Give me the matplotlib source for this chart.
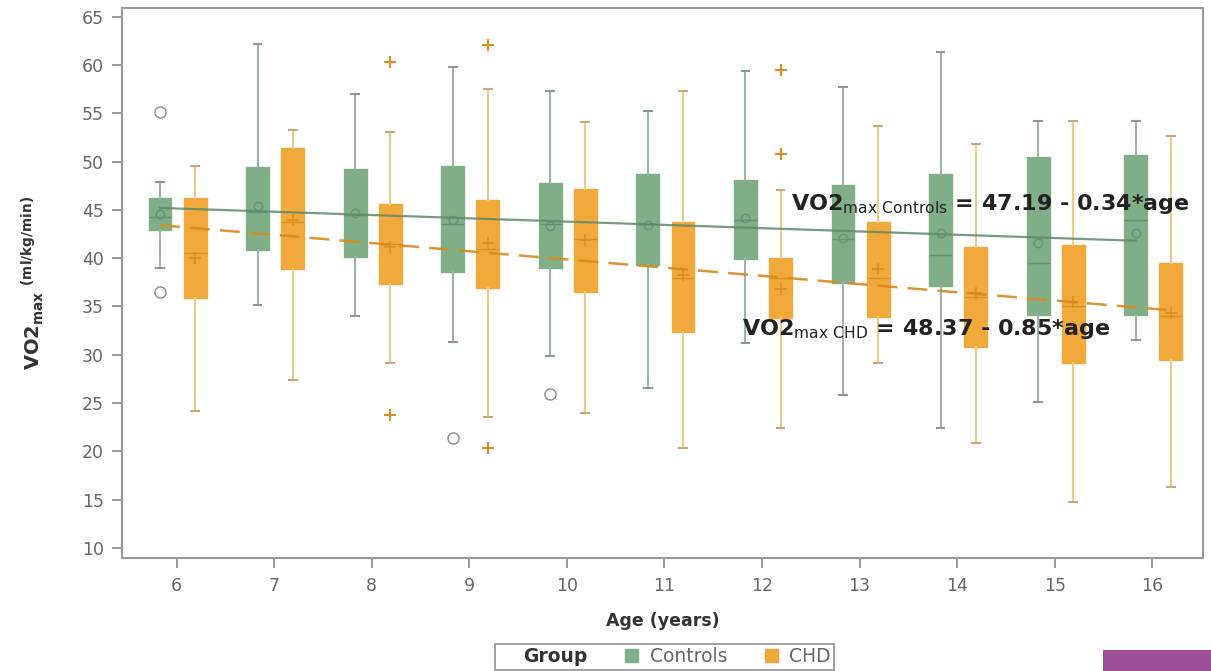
import numpy as np
import matplotlib.pyplot as plt
from matplotlib.patches import Patch, Rectangle

plt.rcParams['font.family'] = ['DejaVu Sans']

ages = [6, 7, 8, 9, 10, 11, 12, 13, 14, 15, 16]

# Controls box stats
ctrl_whislo = [39.0, 35.2, 34.0, 31.3, 29.9, 26.6, 31.2, 25.8, 22.4, 25.1, 31.5]
ctrl_q1 = [42.9, 40.8, 40.1, 38.6, 39.0, 39.3, 39.9, 37.4, 37.1, 34.1, 34.1]
ctrl_med = [44.3, 44.8, 44.5, 43.5, 43.5, 43.5, 44.0, 42.0, 40.3, 39.5, 44.0]
ctrl_q3 = [46.2, 49.4, 49.2, 49.5, 47.8, 48.7, 48.1, 47.6, 48.7, 50.5, 50.7]
ctrl_whishi = [47.9, 62.2, 57.0, 59.8, 57.3, 55.2, 59.4, 57.7, 61.4, 54.2, 54.2]
ctrl_mean = [44.6, 45.4, 44.7, 44.0, 43.3, 43.4, 44.2, 42.1, 42.6, 41.6, 42.6]
ctrl_out = {6: [55.1, 36.5], 9: [21.4], 10: [25.9]}

# CHD box stats
chd_whislo = [24.2, 27.4, 29.2, 23.6, 24.0, 20.4, 22.4, 29.2, 20.9, 14.8, 16.3]
chd_q1 = [35.9, 38.9, 37.3, 36.9, 36.5, 32.4, 33.8, 33.9, 30.8, 29.2, 29.5]
chd_med = [40.5, 43.8, 41.5, 41.0, 42.0, 38.0, 38.0, 38.0, 36.0, 35.0, 34.0]
chd_q3 = [46.2, 51.4, 45.6, 46.0, 47.2, 43.8, 40.0, 43.7, 41.2, 41.4, 39.5]
chd_whishi = [49.5, 53.3, 53.1, 57.5, 54.1, 57.3, 47.1, 53.7, 51.8, 54.2, 52.7]
chd_mean = [40.0, 44.0, 41.2, 41.6, 41.9, 38.3, 36.8, 38.9, 36.4, 35.5, 34.3]
chd_out = {8: [60.3, 23.8], 9: [62.1, 20.4], 12: [59.5, 50.8]}

# regression fits
ctrl_fit = (47.19, -0.34)
chd_fit = (48.37, -0.85)

green = '#7fae87'
green_dk = '#6a8f74'
orange = '#f2a93b'
orange_dk = '#d98f22'
gray = '#8a8a8a'


def make_stats(lo, q1, med, q3, hi, mean, out):
    stats = []
    for i, a in enumerate(ages):
        stats.append(dict(whislo=lo[i], q1=q1[i], med=med[i], q3=q3[i],
                          whishi=hi[i], mean=mean[i], fliers=out.get(a, [])))
    return stats


fig = plt.figure(figsize=(12.11, 6.71), dpi=100)
ax = fig.add_axes([0.1007, 0.1684, 0.8927, 0.8196])

pos = np.array(ages, dtype=float)
off_c, off_h = -0.17, 0.19
w = 0.235

ax.bxp(make_stats(ctrl_whislo, ctrl_q1, ctrl_med, ctrl_q3, ctrl_whishi, ctrl_mean, ctrl_out),
       positions=pos + off_c, widths=w, patch_artist=True, showmeans=True,
       capwidths=0.08, manage_ticks=False,
       boxprops=dict(facecolor=green, edgecolor=green, linewidth=1),
       medianprops=dict(color=green_dk, linewidth=1),
       whiskerprops=dict(color='#9fb3a6', linewidth=1.5),
       capprops=dict(color='#8a9a90', linewidth=1.5),
       meanprops=dict(marker='o', markerfacecolor='none', markeredgecolor=green_dk, markersize=6),
       flierprops=dict(marker='o', markerfacecolor='none', markeredgecolor=gray, markersize=8))

ax.bxp(make_stats(chd_whislo, chd_q1, chd_med, chd_q3, chd_whishi, chd_mean, chd_out),
       positions=pos + off_h, widths=w, patch_artist=True, showmeans=True,
       capwidths=0.08, manage_ticks=False,
       boxprops=dict(facecolor=orange, edgecolor=orange, linewidth=1),
       medianprops=dict(color=orange_dk, linewidth=1),
       whiskerprops=dict(color='#edc98a', linewidth=1.5),
       capprops=dict(color='#c9a878', linewidth=1.5),
       meanprops=dict(marker='+', markeredgecolor=orange_dk, markersize=8, markeredgewidth=1.2),
       flierprops=dict(marker='+', markeredgecolor=orange_dk, markersize=8, markeredgewidth=1.5))

# regression lines
xc = np.array([ages[0] + off_c, ages[-1] + off_c])
ax.plot(xc, ctrl_fit[0] + ctrl_fit[1] * xc, color='#5f8a6c', lw=1.6, alpha=0.85, zorder=5)
xh = np.array([ages[0] + off_c, ages[-1] + off_h])
ax.plot(xh, chd_fit[0] + chd_fit[1] * xh, color='#d88a1e', lw=1.8, ls=(0, (8, 4)), alpha=0.9, zorder=5)

ax.text(12.3, 45.6, r'VO2$_{\mathrm{max\ Controls}}$ = 47.19 - 0.34*age', fontsize=16,
        fontweight='bold', color='#222222', va='center', ha='left', zorder=10)
ax.text(11.8, 32.7, r'VO2$_{\mathrm{max\ CHD}}$ = 48.37 - 0.85*age', fontsize=16,
        fontweight='bold', color='#222222', va='center', ha='left', zorder=10)

ax.set_xlim(5.44, 16.52)
ax.set_ylim(8.96, 65.9)
ax.set_xticks(ages)
ax.set_yticks(np.arange(10, 66, 5))
ax.tick_params(colors='#888888', labelcolor='#666666', labelsize=12.5, length=7, width=1.2)
ax.tick_params(axis='y', pad=6)
ax.tick_params(axis='x', pad=7)
for s in ax.spines.values():
    s.set_color('#999999')
    s.set_linewidth(1.5)

ax.set_xlabel('Age (years)', fontsize=12.5, fontweight='bold', color='#333333', labelpad=12)
ax.set_ylabel(r'$\mathbf{VO2_{max}}$ $\mathbf{^{(ml/kg/min)}}$', fontsize=14, color='#333333', labelpad=26)

handles = [Patch(visible=False), Patch(facecolor=green, edgecolor=green), Patch(facecolor=orange, edgecolor=orange)]
leg = fig.legend(handles, ['Group', 'Controls', 'CHD'], loc='center', bbox_to_anchor=(0.549, 0.021),
                 ncol=3, fontsize=13.5, frameon=True, fancybox=False, edgecolor='#777777',
                 handlelength=0.7, handleheight=0.7, handletextpad=0.6, columnspacing=2.0,
                 borderpad=0.2)
leg.get_frame().set_linewidth(1.2)
leg.get_texts()[0].set_fontweight('bold')
leg.get_texts()[0].set_color('#333333')
for t in leg.get_texts()[1:]:
    t.set_color('#666666')

fig.patches.append(Rectangle((1103 / 1211, 0), 108 / 1211, 21 / 671, transform=fig.transFigure,
                             facecolor='#9b4f96', edgecolor='none'))

fig.savefig('out.png', dpi=100)
